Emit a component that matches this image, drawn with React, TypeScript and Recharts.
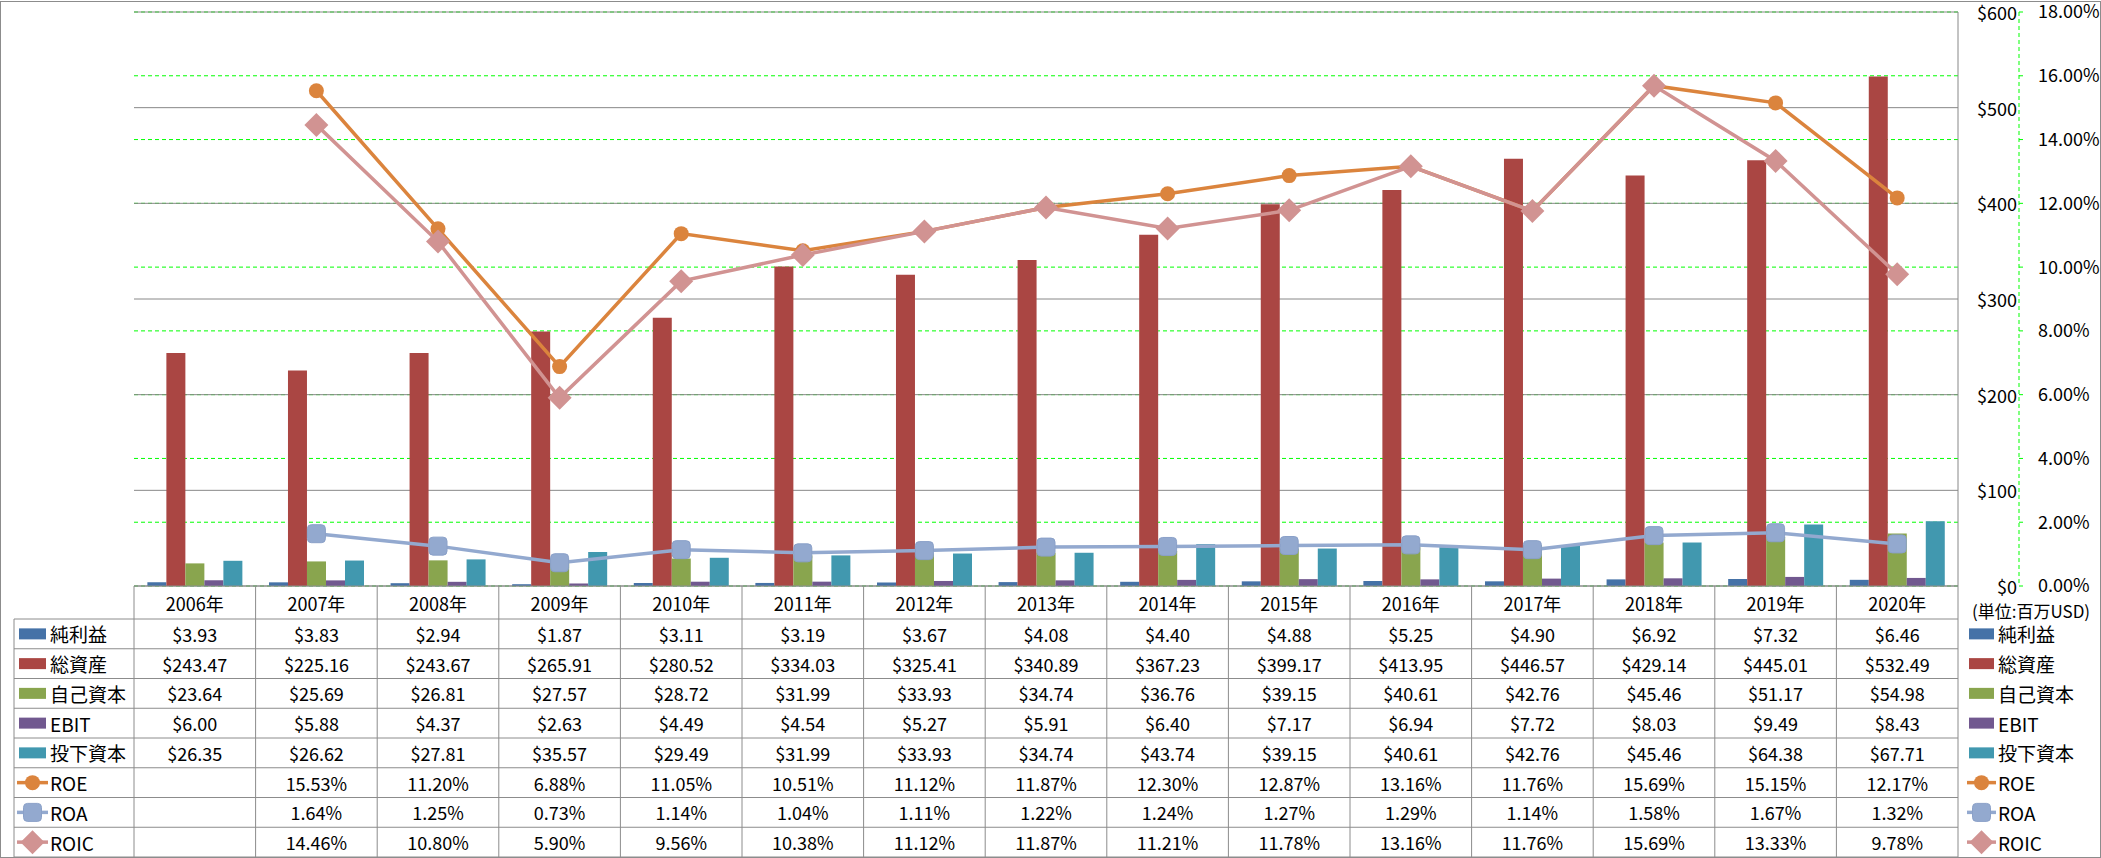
import React from "react";
import { ComposedChart, Bar, Line, XAxis, YAxis, CartesianGrid } from "recharts";

const years = ["2006年", "2007年", "2008年", "2009年", "2010年", "2011年", "2012年", "2013年", "2014年", "2015年", "2016年", "2017年", "2018年", "2019年", "2020年"];
const netIncome = [3.93, 3.83, 2.94, 1.87, 3.11, 3.19, 3.67, 4.08, 4.4, 4.88, 5.25, 4.9, 6.92, 7.32, 6.46];
const totalAssets = [243.47, 225.16, 243.67, 265.91, 280.52, 334.03, 325.41, 340.89, 367.23, 399.17, 413.95, 446.57, 429.14, 445.01, 532.49];
const equity = [23.64, 25.69, 26.81, 27.57, 28.72, 31.99, 33.93, 34.74, 36.76, 39.15, 40.61, 42.76, 45.46, 51.17, 54.98];
const ebit = [6.0, 5.88, 4.37, 2.63, 4.49, 4.54, 5.27, 5.91, 6.4, 7.17, 6.94, 7.72, 8.03, 9.49, 8.43];
const investedCapital = [26.35, 26.62, 27.81, 35.57, 29.49, 31.99, 33.93, 34.74, 43.74, 39.15, 40.61, 42.76, 45.46, 64.38, 67.71];
const roe = [null, 15.53, 11.2, 6.88, 11.05, 10.51, 11.12, 11.87, 12.3, 12.87, 13.16, 11.76, 15.69, 15.15, 12.17];
const roa = [null, 1.64, 1.25, 0.73, 1.14, 1.04, 1.11, 1.22, 1.24, 1.27, 1.29, 1.14, 1.58, 1.67, 1.32];
const roic = [null, 14.46, 10.8, 5.9, 9.56, 10.38, 11.12, 11.87, 11.21, 11.78, 13.16, 11.76, 15.69, 13.33, 9.78];

const usdTicks = [0, 100, 200, 300, 400, 500, 600];
const pctTicks = [0, 2, 4, 6, 8, 10, 12, 14, 16, 18];
const unitLabel = "(単位:百万USD)";

const barSeries = [
  { key: "netIncome", name: "純利益", color: "#4572A7", values: netIncome },
  { key: "totalAssets", name: "総資産", color: "#AA4643", values: totalAssets },
  { key: "equity", name: "自己資本", color: "#89A54E", values: equity },
  { key: "ebit", name: "EBIT", color: "#71588F", values: ebit },
  { key: "investedCapital", name: "投下資本", color: "#4198AF", values: investedCapital },
];
const lineSeries = [
  { key: "roe", name: "ROE", color: "#DB843D", shape: "circle", values: roe },
  { key: "roa", name: "ROA", color: "#93A9CF", shape: "square", values: roa },
  { key: "roic", name: "ROIC", color: "#D19392", shape: "diamond", values: roic },
];

const data = years.map((year, i) => {
  const row: any = { year };
  barSeries.forEach((s) => (row[s.key] = s.values[i]));
  lineSeries.forEach((s) => (row[s.key] = s.values[i]));
  return row;
});

const tableRows = [
  ...barSeries.map((s) => ({ ...s, kind: "bar", fmt: (v: number | null) => (v == null ? "" : `$${v.toFixed(2)}`) })),
  ...lineSeries.map((s) => ({ ...s, kind: "line", fmt: (v: number | null) => (v == null ? "" : `${v.toFixed(2)}%`) })),
];

// layout
const W = 2101;
const H = 858;
const PLOT_LEFT = 134;
const PLOT_TOP = 12;
const AXIS_Y = 586;
const X_AXIS_H = H - AXIS_Y;
const USD_W = 61;
const PCT_W = 82;
const PLOT_RIGHT = W - USD_W - PCT_W;
const HEADER_H = 33;
const ROW_H = 29.75;
const TABLE_LEFT = 14;
const BORDER = "#8c8c8c";
const FONT = "'Noto Sans CJK JP', 'Noto Sans', sans-serif";

function Marker({ shape, cx, cy, color }: any) {
  if (shape === "circle") return <circle cx={cx} cy={cy} r={7.5} fill={color} />;
  if (shape === "square")
    return <rect x={cx - 9} y={cy - 9} width={18} height={18} rx={4} fill={color} stroke="#8aa0c8" strokeWidth={1} />;
  return <polygon points={`${cx},${cy - 12} ${cx + 12},${cy} ${cx},${cy + 12} ${cx - 12},${cy}`} fill={color} />;
}

function dotFor(shape: string, color: string) {
  return (p: any) => {
    if (p.value == null || p.cy == null) return <g key={`d-${p.index}`} />;
    return <Marker key={`d-${p.index}`} shape={shape} cx={p.cx} cy={p.cy} color={color} />;
  };
}

function TableColumn(props: any) {
  const { x, y, payload, index } = props;
  const half = payload && payload.offset ? payload.offset : (PLOT_RIGHT - PLOT_LEFT) / years.length / 2;
  const i = index;
  const bottom = y + HEADER_H + ROW_H * tableRows.length;
  return (
    <g>
      <line x1={x - half} x2={x - half} y1={y} y2={bottom} stroke={BORDER} />
      <text x={x} y={y + HEADER_H / 2} textAnchor="middle" dominantBaseline="central" fontSize={18} fill="#000" fontFamily={FONT}>
        {payload.value}
      </text>
      {tableRows.map((r, k) => (
        <text
          key={r.key}
          x={x}
          y={y + HEADER_H + ROW_H * k + ROW_H / 2}
          textAnchor="middle"
          dominantBaseline="central"
          fontSize={18}
          fill="#000"
          fontFamily={FONT}
        >
          {r.fmt(r.values[i])}
        </text>
      ))}
    </g>
  );
}

function UsdTick(props: any) {
  const { x, y, payload } = props;
  return (
    <text x={x + USD_W - 2} y={y} textAnchor="end" dominantBaseline="central" fontSize={18} fill="#000" fontFamily={FONT}>
      {`$${payload.value}`}
    </text>
  );
}

function LegendKey({ row, x, cy, w }: any) {
  if (row.kind === "bar") return <rect x={x} y={cy - 5.5} width={w} height={11} fill={row.color} />;
  return (
    <g>
      <line x1={x - 2} x2={x + w + 2} y1={cy} y2={cy} stroke={row.color} strokeWidth={3.5} />
      <Marker shape={row.shape} cx={x + w / 2} cy={cy} color={row.color} />
    </g>
  );
}

function Overlay() {
  const rowLines = tableRows.map((_, k) => AXIS_Y + HEADER_H + ROW_H * k);
  const bottom = AXIS_Y + HEADER_H + ROW_H * tableRows.length;
  return (
    <svg width={W} height={H} style={{ position: "absolute", left: 0, top: 0, pointerEvents: "none" }} fontFamily={FONT}>
      <rect x={0.5} y={1.5} width={W - 1} height={H - 2} fill="none" stroke={BORDER} />
      {rowLines.map((yy) => (
        <line key={yy} x1={TABLE_LEFT} x2={PLOT_RIGHT} y1={yy} y2={yy} stroke={BORDER} />
      ))}
      <line x1={TABLE_LEFT} x2={PLOT_RIGHT} y1={bottom} y2={bottom} stroke={BORDER} />
      <line x1={TABLE_LEFT} x2={TABLE_LEFT} y1={AXIS_Y + HEADER_H} y2={bottom} stroke={BORDER} />
      <line x1={PLOT_RIGHT} x2={PLOT_RIGHT} y1={AXIS_Y} y2={bottom} stroke={BORDER} />
      {tableRows.map((r, k) => {
        const cy = AXIS_Y + HEADER_H + ROW_H * k + ROW_H / 2;
        return (
          <g key={r.key}>
            <LegendKey row={r} x={19} cy={cy} w={27} />
            <text x={50} y={cy} dominantBaseline="central" fontSize={19} fill="#000">
              {r.name}
            </text>
            <LegendKey row={r} x={1969} cy={cy} w={25} />
            <text x={1998} y={cy} dominantBaseline="central" fontSize={19} fill="#000">
              {r.name}
            </text>
          </g>
        );
      })}
      <text x={1972} y={AXIS_Y + HEADER_H / 2 + 8} dominantBaseline="central" fontSize={17} fill="#000">
        {unitLabel}
      </text>
    </svg>
  );
}

export default function App() {
  return (
    <div style={{ position: "absolute", left: 0, top: 0, width: W, height: H, background: "#fff", fontFamily: FONT }}>
      <ComposedChart
        width={W}
        height={H}
        data={data}
        margin={{ top: PLOT_TOP, right: 0, bottom: 0, left: PLOT_LEFT }}
        barCategoryGap="11%"
        barGap={0}
      >
        <CartesianGrid yAxisId="ratio" vertical={false} stroke="#00ff00" strokeDasharray="4 3" />
        <CartesianGrid yAxisId="amount" vertical={false} stroke="#888888" />
        <XAxis
          dataKey="year"
          height={X_AXIS_H}
          interval={0}
          tickSize={0}
          tickMargin={0}
          tickLine={false}
          axisLine={{ stroke: BORDER }}
          tick={<TableColumn />}
        />
        <YAxis
          yAxisId="amount"
          orientation="right"
          width={USD_W}
          domain={[0, 600]}
          ticks={usdTicks}
          tickSize={0}
          tickMargin={0}
          tickLine={false}
          axisLine={{ stroke: "#888888" }}
          tick={<UsdTick />}
        />
        <YAxis
          yAxisId="ratio"
          orientation="right"
          width={PCT_W}
          domain={[0, 18]}
          ticks={pctTicks}
          tickSize={4}
          tickMargin={15}
          tickLine={{ stroke: "#00ff00", strokeDasharray: "4 3" }}
          axisLine={{ stroke: "#00ff00", strokeDasharray: "4 3" }}
          tick={{ fontSize: 18, fill: "#000", fontFamily: FONT }}
          tickFormatter={(v: number) => `${v.toFixed(2)}%`}
        />
        {barSeries.map((s) => (
          <Bar key={s.key} yAxisId="amount" dataKey={s.key} name={s.name} fill={s.color} isAnimationActive={false} />
        ))}
        {lineSeries.map((s) => (
          <Line
            key={s.key}
            yAxisId="ratio"
            type="linear"
            dataKey={s.key}
            name={s.name}
            stroke={s.color}
            strokeWidth={3.5}
            dot={dotFor(s.shape, s.color)}
            activeDot={false}
            isAnimationActive={false}
          />
        ))}
      </ComposedChart>
      <Overlay />
    </div>
  );
}
